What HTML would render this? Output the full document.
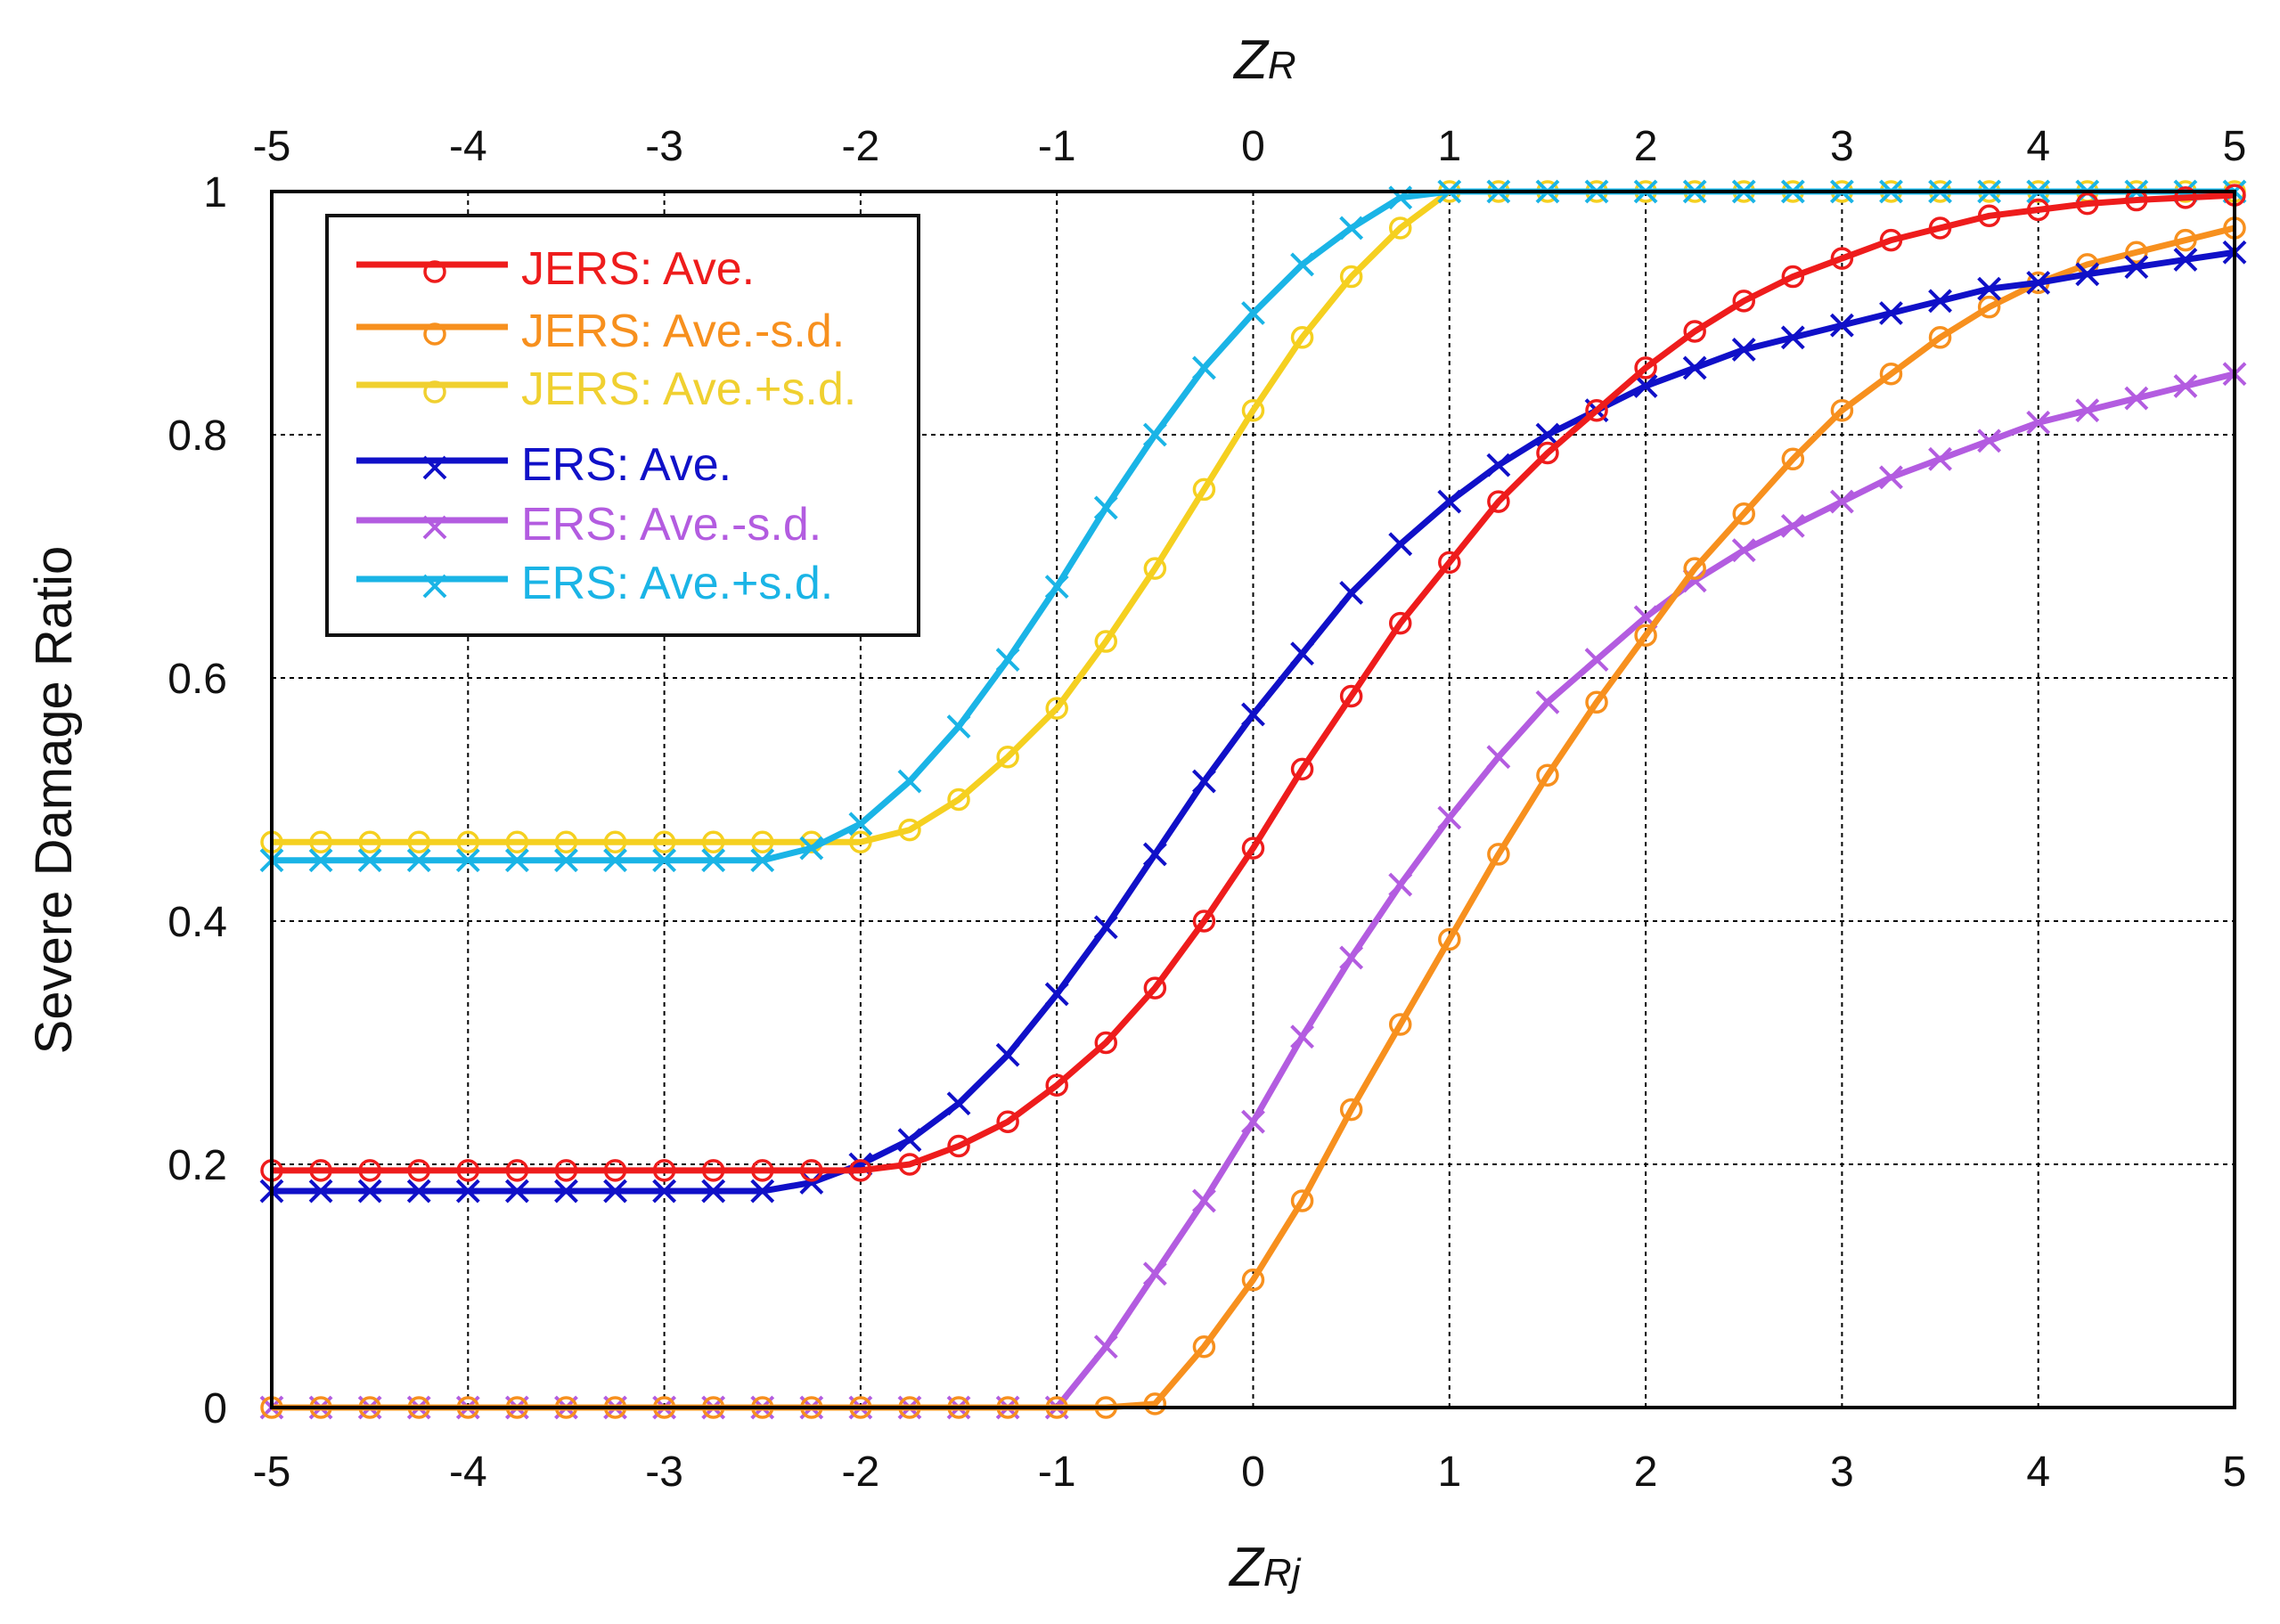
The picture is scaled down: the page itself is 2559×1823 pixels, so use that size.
<!DOCTYPE html>
<html><head><meta charset="utf-8"><style>
html,body{margin:0;padding:0;background:#fff}
svg text{font-family:"Liberation Sans",sans-serif}
</style></head><body>
<svg id="chart" width="2559" height="1818" viewBox="0 0 2559 1818" xmlns="http://www.w3.org/2000/svg">
<rect width="2559" height="1818" fill="#fff"/>
<g id="grid"></g><g id="series"></g><g id="axes"></g><g id="legend"></g>
</svg>
<script>
const xs = [];
const xStart = -5, xStep = 0.25, nPts = 41;
const jersAve = [0.195,0.195,0.195,0.195,0.195,0.195,0.195,0.195,0.195,0.195,0.195,0.195,0.195,0.20,0.215,0.235,0.265,0.30,0.345,0.40,0.46,0.525,0.585,0.645,0.695,0.745,0.785,0.82,0.855,0.885,0.91,0.93,0.945,0.96,0.97,0.98,0.985,0.99,0.993,0.995,0.997];
const jersMinus = [0,0,0,0,0,0,0,0,0,0,0,0,0,0,0,0,0,0,0.003,0.05,0.105,0.17,0.245,0.315,0.385,0.455,0.52,0.58,0.635,0.69,0.735,0.78,0.82,0.85,0.88,0.905,0.925,0.94,0.95,0.96,0.97];
const jersPlus = [0.465,0.465,0.465,0.465,0.465,0.465,0.465,0.465,0.465,0.465,0.465,0.465,0.465,0.475,0.50,0.535,0.575,0.63,0.69,0.755,0.82,0.88,0.93,0.97,1,1,1,1,1,1,1,1,1,1,1,1,1,1,1,1,1];
const ersAve = [0.178,0.178,0.178,0.178,0.178,0.178,0.178,0.178,0.178,0.178,0.178,0.185,0.20,0.22,0.25,0.29,0.34,0.395,0.455,0.515,0.57,0.62,0.67,0.71,0.745,0.775,0.80,0.82,0.84,0.855,0.87,0.88,0.89,0.90,0.91,0.92,0.925,0.932,0.938,0.944,0.95];
const ersMinus = [0,0,0,0,0,0,0,0,0,0,0,0,0,0,0,0,0,0.05,0.11,0.17,0.235,0.305,0.37,0.43,0.485,0.535,0.58,0.615,0.65,0.68,0.705,0.725,0.745,0.765,0.78,0.795,0.81,0.82,0.83,0.84,0.85];
const ersPlus = [0.45,0.45,0.45,0.45,0.45,0.45,0.45,0.45,0.45,0.45,0.45,0.46,0.48,0.515,0.56,0.615,0.675,0.74,0.80,0.855,0.90,0.94,0.97,0.995,1,1,1,1,1,1,1,1,1,1,1,1,1,1,1,1,1];
const xTicks = [-5,-4,-3,-2,-1,0,1,2,3,4,5];
const yTicks = [0,0.2,0.4,0.6,0.8,1];
const yTickLabels = ["0","0.2","0.4","0.6","0.8","1"];
const seriesNames = ["JERS: Ave.","JERS: Ave.-s.d.","JERS: Ave.+s.d.","ERS: Ave.","ERS: Ave.-s.d.","ERS: Ave.+s.d."];
for (let i=0;i<nPts;i++) xs.push(xStart+i*xStep);

const NS="http://www.w3.org/2000/svg";
const L=305,R=2508,T=215,B=1580;
const sx=v=>L+(v+5)/10*(R-L);
const sy=v=>B-v*(B-T);
function mk(tag,attrs,parent){const e=document.createElementNS(NS,tag);for(const k in attrs)e.setAttribute(k,attrs[k]);parent.appendChild(e);return e;}
const grid=document.getElementById('grid'),axes=document.getElementById('axes'),ser=document.getElementById('series'),leg=document.getElementById('legend');

xTicks.forEach(t=>{
  if(t>-5&&t<5){const g=mk('line',{x1:sx(t),x2:sx(t),y1:T,y2:B,stroke:'#000','stroke-width':2,'stroke-dasharray':'5,5'},grid);
  
  }
  const a=mk('text',{x:sx(t),y:1668,'font-size':48,'text-anchor':'middle',fill:'#111'},axes);a.textContent=t;
  
  
  const b=mk('text',{x:sx(t),y:180,'font-size':48,'text-anchor':'middle',fill:'#111'},axes);b.textContent=t;
  
  
});
yTicks.forEach((t,i)=>{
  if(t>0&&t<1){const g=mk('line',{x1:L,x2:R,y1:sy(t),y2:sy(t),stroke:'#000','stroke-width':2,'stroke-dasharray':'5,5'},grid);
  
  }
  const a=mk('text',{x:255,y:sy(t)+17,'font-size':48,'text-anchor':'end',fill:'#111'},axes);a.textContent=yTickLabels[i];
  
  
});
const frame=mk('rect',{x:L,y:T,width:R-L,height:B-T,fill:'none',stroke:'#000','stroke-width':4},axes);


const yt=mk('text',{x:80,y:898,'font-size':58,'text-anchor':'middle',fill:'#111',transform:'rotate(-90 80 898)'},axes);yt.textContent='Severe Damage Ratio';


const xt=mk('text',{x:1380,y:1780,'font-size':62,fill:'#111','font-style':'italic'},axes);xt.innerHTML='Z<tspan font-size="44">Rj</tspan>';


const xt2=mk('text',{x:1385,y:88,'font-size':62,fill:'#111','font-style':'italic'},axes);xt2.innerHTML='Z<tspan font-size="44">R</tspan>';



const defs=[[jersPlus,'#f5d020','o'],[ersPlus,'#1ab4e6','x'],[ersMinus,'#b35ce0','x'],[jersMinus,'#f7901e','o'],[ersAve,'#1010c8','x'],[jersAve,'#ee1c1c','o']];
const names={0:'jers-ave-plus-sd',1:'ers-ave-plus-sd',2:'ers-ave-minus-sd',3:'jers-ave-minus-sd',4:'ers-ave',5:'jers-ave'};
function marker(type,x,y,c,parent){
  if(type==='o'){const m=mk('circle',{cx:x,cy:y,r:11,fill:'none',stroke:c,'stroke-width':3.5},parent);return m;}
  const g=mk('path',{d:`M${x-12},${y-12}L${x+12},${y+12}M${x-12},${y+12}L${x+12},${y-12}`,stroke:c,'stroke-width':4,fill:'none'},parent);return g;
}
defs.forEach((d,si)=>{
  const [vals,c,type]=d;
  const g=mk('g',{},ser);
  
  
  const pts=vals.map((v,i)=>sx(xs[i])+','+sy(v)).join(' ');
  const pl=mk('polyline',{points:pts,fill:'none',stroke:c,'stroke-width':7,'stroke-linejoin':'round'},g);
  
  
  vals.forEach((v,i)=>{const m=marker(type,sx(xs[i]),sy(v),c,g);
    
    });
});

const lb=mk('rect',{x:367,y:242,width:664,height:471,fill:'#fff',stroke:'#111','stroke-width':4},leg);


const legColors=['#ee1c1c','#f7901e','#f0d030','#1010c8','#b35ce0','#1ab4e6'];
const legTypes=['o','o','o','x','x','x'];
const legY=[305,375,440,525,592,658];
seriesNames.forEach((n,i)=>{
  const g=mk('g',{},leg);
  
  
  const y=legY[i];
  mk('line',{x1:400,x2:570,y1:y-8,y2:y-8,stroke:legColors[i],'stroke-width':7},g);
  marker(legTypes[i],488,y,legColors[i],g);
  const t=mk('text',{x:585,y:y+14,'font-size':52,fill:legColors[i]},g);t.textContent=n;
});
</script>
</body></html>
